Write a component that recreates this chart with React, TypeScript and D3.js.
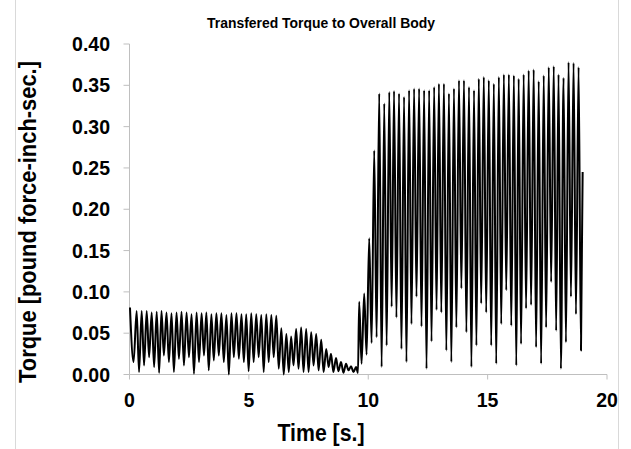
import * as d3 from "d3";

// low-torque phase: peaks/troughs of the oscillation before ~9.5 s
const lowPeakT = [0.02, 0.30, 0.51, 0.72, 0.93, 1.14, 1.34, 1.55, 1.76, 1.97, 2.18, 2.39, 2.60, 2.81, 3.02, 3.22, 3.43, 3.64, 3.85, 4.06, 4.27, 4.48, 4.69, 4.89, 5.10, 5.31, 5.52, 5.73, 5.94, 6.15, 6.36, 6.57, 6.77, 6.98, 7.19, 7.40, 7.61, 7.82, 8.03, 8.24, 8.44, 8.65, 8.86, 9.07, 9.28, 9.49];
const lowPeak = [0.081, 0.077, 0.077, 0.077, 0.075, 0.076, 0.077, 0.075, 0.074, 0.075, 0.076, 0.075, 0.073, 0.075, 0.074, 0.075, 0.073, 0.074, 0.074, 0.072, 0.074, 0.074, 0.073, 0.073, 0.074, 0.073, 0.072, 0.073, 0.072, 0.071, 0.056, 0.049, 0.046, 0.055, 0.057, 0.055, 0.051, 0.049, 0.042, 0.031, 0.025, 0.020, 0.015, 0.013, 0.010, 0.009];
const lowTroughT = [0.17, 0.40, 0.61, 0.82, 1.03, 1.24, 1.44, 1.65, 1.86, 2.07, 2.28, 2.49, 2.70, 2.91, 3.12, 3.32, 3.53, 3.74, 3.95, 4.16, 4.37, 4.58, 4.79, 4.99, 5.20, 5.41, 5.62, 5.83, 6.04, 6.25, 6.46, 6.67, 6.87, 7.08, 7.29, 7.50, 7.71, 7.92, 8.13, 8.34, 8.54, 8.75, 8.96, 9.17, 9.38, 9.57];
const lowTrough = [0.015, 0.003, 0.011, 0.021, 0.009, 0.002, 0.023, 0.015, 0.003, 0.019, 0.011, 0.021, 0.001, 0.015, 0.023, 0.005, 0.017, 0.023, 0.015, 0.000, 0.021, 0.019, 0.015, 0.004, 0.015, 0.021, 0.003, 0.015, 0.021, 0.007, 0.000, 0.003, 0.011, 0.007, 0.003, 0.003, 0.011, 0.005, 0.003, 0.009, 0.003, 0.004, 0.002, 0.005, 0.003, 0.002];

// high-torque phase after ~9.6 s
const highPeakT = [9.62, 9.83, 10.04, 10.25, 10.46, 10.67, 10.88, 11.08, 11.29, 11.50, 11.71, 11.92, 12.13, 12.34, 12.55, 12.76, 12.96, 13.17, 13.38, 13.59, 13.80, 14.01, 14.22, 14.43, 14.63, 14.84, 15.05, 15.26, 15.47, 15.68, 15.89, 16.10, 16.30, 16.51, 16.72, 16.93, 17.14, 17.35, 17.56, 17.77, 17.97, 18.18, 18.39, 18.60, 18.81];
const highPeak = [0.088, 0.098, 0.165, 0.271, 0.340, 0.328, 0.342, 0.343, 0.340, 0.336, 0.344, 0.346, 0.346, 0.344, 0.344, 0.348, 0.352, 0.352, 0.340, 0.346, 0.356, 0.356, 0.348, 0.344, 0.358, 0.360, 0.356, 0.352, 0.360, 0.363, 0.363, 0.362, 0.358, 0.363, 0.368, 0.369, 0.355, 0.362, 0.372, 0.373, 0.363, 0.359, 0.378, 0.377, 0.372];
const highTroughT = [9.72, 9.93, 10.14, 10.35, 10.56, 10.77, 10.98, 11.18, 11.39, 11.60, 11.81, 12.02, 12.23, 12.44, 12.65, 12.86, 13.06, 13.27, 13.48, 13.69, 13.90, 14.11, 14.32, 14.53, 14.73, 14.94, 15.15, 15.36, 15.57, 15.78, 15.99, 16.20, 16.40, 16.61, 16.82, 17.03, 17.24, 17.45, 17.66, 17.87, 18.07, 18.28, 18.49, 18.70, 18.91];
const highTrough = [0.013, 0.024, 0.038, 0.045, 0.009, 0.035, 0.082, 0.069, 0.031, 0.015, 0.061, 0.094, 0.058, 0.007, 0.040, 0.078, 0.075, 0.029, 0.015, 0.057, 0.104, 0.051, 0.009, 0.035, 0.086, 0.075, 0.035, 0.013, 0.061, 0.102, 0.059, 0.011, 0.037, 0.080, 0.084, 0.033, 0.013, 0.057, 0.112, 0.053, 0.007, 0.039, 0.094, 0.073, 0.029];

const endPoint: [number, number] = [18.98, 0.245];

const xTicks = [0, 5, 10, 15, 20];
const yTicks = [0, 0.05, 0.1, 0.15, 0.2, 0.25, 0.3, 0.35, 0.4];

const W = 631;
const H = 449;
const margin = { left: 129.5, right: 24, top: 44, bottom: 74.5 };

export default function App() {
  const x = d3.scaleLinear().domain([0, 20]).range([margin.left, W - margin.right]);
  const y = d3.scaleLinear().domain([0, 0.4]).range([H - margin.bottom, margin.top]);

  const pts: [number, number][] = [];
  lowPeakT.forEach((t, i) => pts.push([t, lowPeak[i]]));
  lowTroughT.forEach((t, i) => pts.push([t, lowTrough[i]]));
  highPeakT.forEach((t, i) => pts.push([t, highPeak[i]]));
  highTroughT.forEach((t, i) => pts.push([t, highTrough[i]]));
  pts.push(endPoint);
  pts.sort((a, b) => a[0] - b[0]);

  const line = d3
    .line<[number, number]>()
    .x((d) => x(d[0]))
    .y((d) => y(d[1]))
    .curve(d3.curveMonotoneX);

  const axisColor = "#bfbfbf";
  const font = "'Liberation Sans', Arial, sans-serif";
  const y0 = y(0);

  return (
    <svg
      width={W}
      height={H}
      style={{ position: "absolute", left: 0, top: 0, background: "#fff" }}
      fontFamily={font}
    >
      {/* chart frame */}
      <line x1={15.5} x2={15.5} y1={0} y2={H} stroke="#d9d9d9" />
      <line x1={618.5} x2={618.5} y1={0} y2={H} stroke="#d9d9d9" />

      <text
        x={321}
        y={28}
        textAnchor="middle"
        fontSize={14.5}
        fontWeight="bold"
        textLength={228}
        lengthAdjust="spacingAndGlyphs"
      >
        Transfered Torque to Overall Body
      </text>

      {/* y axis */}
      <line x1={x(0)} x2={x(0)} y1={y(0.4)} y2={y0} stroke={axisColor} />
      {yTicks.map((t) => (
        <g key={t}>
          <line x1={x(0) - 6} x2={x(0)} y1={y(t)} y2={y(t)} stroke={axisColor} />
          <text
            x={110}
            y={y(t)}
            dy="0.36em"
            textAnchor="end"
            fontSize={19.5}
            fontWeight="bold"
          >
            {t.toFixed(2)}
          </text>
        </g>
      ))}

      {/* x axis */}
      <line x1={x(0)} x2={x(20)} y1={y0} y2={y0} stroke={axisColor} />
      {xTicks.map((t) => (
        <g key={t}>
          <line x1={x(t)} x2={x(t)} y1={y0} y2={y0 + 5} stroke={axisColor} />
          <text x={x(t)} y={407} textAnchor="middle" fontSize={19.5} fontWeight="bold">
            {t}
          </text>
        </g>
      ))}

      <path d={line(pts) ?? ""} fill="none" stroke="#000" strokeWidth={2} strokeLinejoin="round" />

      <text
        x={321}
        y={441}
        textAnchor="middle"
        fontSize={23}
        fontWeight="bold"
        textLength={87}
        lengthAdjust="spacingAndGlyphs"
      >
        Time [s.]
      </text>
      <text
        transform="translate(36,222) rotate(-90)"
        textAnchor="middle"
        fontSize={23}
        fontWeight="bold"
        textLength={322}
        lengthAdjust="spacingAndGlyphs"
      >
        Torque [pound force-inch-sec.]
      </text>
    </svg>
  );
}
